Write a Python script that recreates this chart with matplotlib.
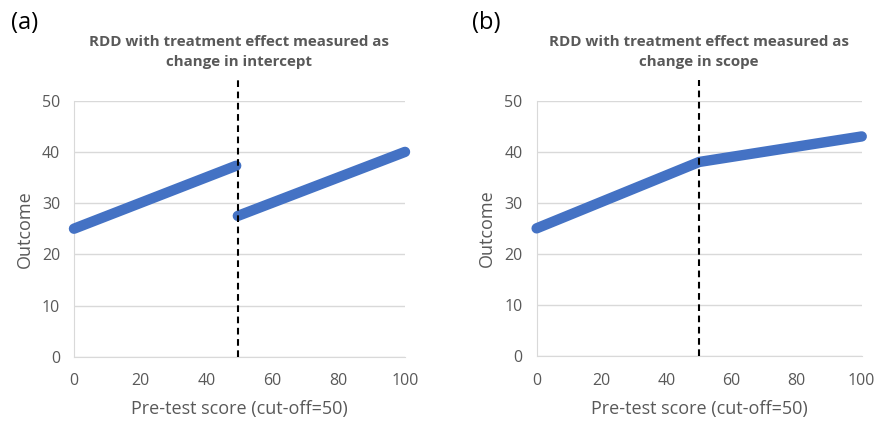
import matplotlib.pyplot as plt

# panel (a): change in intercept
score_a_low = [0, 49]
outcome_a_low = [25, 37.3]
score_a_high = [49.5, 100]
outcome_a_high = [27.5, 40]
cutoff_a = 49.5

# panel (b): change in slope
score_b = [0, 50, 100]
outcome_b = [25, 38, 43]
cutoff_b = 50

cutoff_top = 54
x_ticks = [0, 20, 40, 60, 80, 100]
y_ticks = [0, 10, 20, 30, 40, 50]

blue = "#4472C4"
grey = "#595959"
grid = "#D9D9D9"

plt.rcParams["font.family"] = ["Open Sans", "DejaVu Sans"]

fig = plt.figure(figsize=(8.87, 4.22), dpi=100)
ax_a = fig.add_axes([0.0834, 0.1547, 0.3732, 0.6067])
ax_b = fig.add_axes([0.6050, 0.1564, 0.3665, 0.6050])


def style(ax, title):
    ax.set_xlim(0, 100)
    ax.set_ylim(0, 50)
    ax.set_xticks(x_ticks)
    ax.set_yticks(y_ticks)
    ax.grid(axis="y", color=grid, linewidth=1)
    ax.set_axisbelow(True)
    for s in ["top", "right"]:
        ax.spines[s].set_visible(False)
    for s in ["left", "bottom"]:
        ax.spines[s].set_color(grid)
    ax.tick_params(length=0, labelsize=11.5, colors=grey)
    ax.tick_params(axis="x", pad=12)
    ax.tick_params(axis="y", pad=10)
    ax.set_xlabel("Pre-test score (cut-off=50)", fontsize=13, color=grey, labelpad=8)
    ax.set_ylabel("Outcome", fontsize=13, color=grey, labelpad=6)
    ax.set_title(title, fontsize=10.9, fontweight="bold", color=grey, pad=25, linespacing=1.5)


style(ax_a, "RDD with treatment effect measured as\nchange in intercept")
ax_a.plot(score_a_low, outcome_a_low, color=blue, linewidth=7.5, solid_capstyle="round", clip_on=False, zorder=3)
ax_a.plot(score_a_high, outcome_a_high, color=blue, linewidth=7.5, solid_capstyle="round", clip_on=False, zorder=3)
ax_a.plot([cutoff_a, cutoff_a], [0, cutoff_top], color="black", linestyle=(0, (3.2, 2.2)), linewidth=1.5, clip_on=False, zorder=4)

style(ax_b, "RDD with treatment effect measured as\nchange in scope")
ax_b.plot(score_b, outcome_b, color=blue, linewidth=7.5, solid_capstyle="round", solid_joinstyle="round", clip_on=False, zorder=3)
ax_b.plot([cutoff_b, cutoff_b], [0, cutoff_top], color="black", linestyle=(0, (3.2, 2.2)), linewidth=1.5, clip_on=False, zorder=4)

fig.text(0.012, 0.945, "(a)", fontsize=17, color="black", va="center", ha="left")
fig.text(0.532, 0.945, "(b)", fontsize=17, color="black", va="center", ha="left")

fig.savefig("out.png", dpi=100)
